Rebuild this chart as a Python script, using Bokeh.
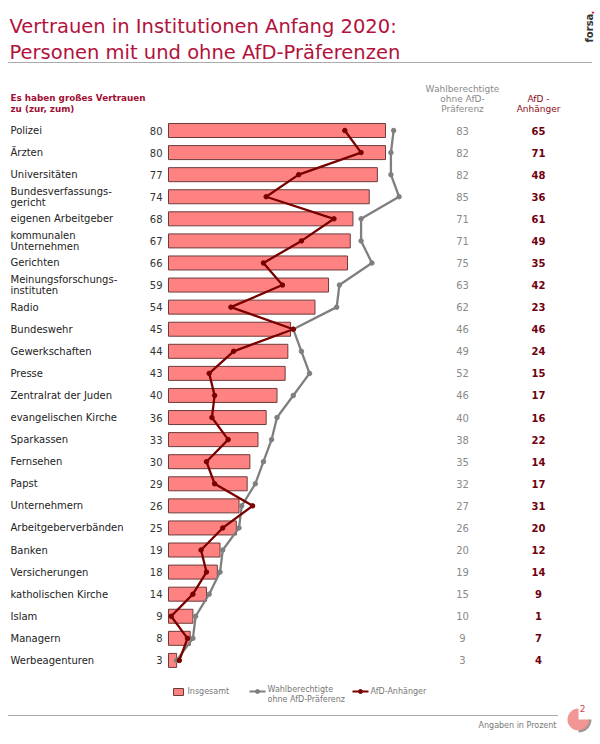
from bokeh.plotting import figure
from bokeh.models import Range1d
from bokeh.core.properties import value
from bokeh.embed import file_html
from bokeh.resources import INLINE
import math

# ---------------- data ----------------
labels = ["Polizei", "Ärzten", "Universitäten", "Bundesverfassungs-\ngericht",
          "eigenen Arbeitgeber", "kommunalen\nUnternehmen", "Gerichten",
          "Meinungsforschungs-\ninstituten", "Radio", "Bundeswehr", "Gewerkschaften",
          "Presse", "Zentralrat der Juden", "evangelischen Kirche", "Sparkassen",
          "Fernsehen", "Papst", "Unternehmern", "Arbeitgeberverbänden", "Banken",
          "Versicherungen", "katholischen Kirche", "Islam", "Managern", "Werbeagenturen"]
insgesamt = [80, 80, 77, 74, 68, 67, 66, 59, 54, 45, 44, 43, 40, 36, 33, 30, 29, 26, 25, 19, 18, 14, 9, 8, 3]
ohne_afd = [83, 82, 82, 85, 71, 71, 75, 63, 62, 46, 49, 52, 46, 40, 38, 35, 32, 27, 26, 20, 19, 15, 10, 9, 3]
afd = [65, 71, 48, 36, 61, 49, 35, 42, 23, 46, 24, 15, 17, 16, 22, 14, 17, 31, 20, 12, 14, 9, 1, 7, 4]
rows = list(range(len(labels)))

# ---------------- layout helpers (page pixel -> data) ----------------
PX0, PXU = 168.0, 2.7125
ROW0, ROWH = 130.0, 22.08
def tx(px): return (px - PX0) / PXU
def ty(py): return (py - ROW0) / ROWH

W, H = 600, 744
p = figure(width=W, height=H, output_backend="svg", toolbar_location=None,
           x_range=Range1d(tx(0), tx(W)), y_range=Range1d(ty(H), ty(0)),
           min_border=0, outline_line_color=None)
p.axis.visible = False
p.grid.visible = False
p.background_fill_color = "white"

FONT = value("DejaVu Sans")
RED_T = "#b2123c"
BAR = "#ff8282"
GRAY = "#7f7f7f"
DRED = "#7a0000"

# title
p.text(x=[tx(9), tx(9)], y=[ty(26), ty(52)],
       text=["Vertrauen in Institutionen Anfang 2020:", "Personen mit und ohne AfD-Präferenzen"],
       text_font=FONT, text_font_size="19.5px", text_color=RED_T, text_baseline="alphabetic")
p.text(x=[tx(589)], y=[ty(42)], text=["forsa"], angle=math.pi / 2,
       text_font=FONT, text_font_size="10px", text_font_style="bold", text_color="#333333",
       text_baseline="middle", text_align="left")
p.text(x=[tx(589)], y=[ty(14)], text=["."], angle=math.pi / 2,
       text_font=FONT, text_font_size="10px", text_font_style="bold", text_color="#c8102e",
       text_baseline="middle", text_align="left")
p.line(x=[tx(8), tx(592)], y=[ty(62), ty(62)], line_color="#555555", line_width=1, line_dash="1 1")

# headers
p.text(x=[tx(10), tx(10)], y=[ty(97), ty(108)], text=["Es haben großes Vertrauen", "zu (zur, zum)"],
       text_font=FONT, text_font_size="8.8px", text_font_style="bold", text_color="#a01035",
       text_baseline="middle")
p.text(x=[tx(462)] * 3, y=[ty(88), ty(98), ty(108)], text=["Wahlberechtigte", "ohne AfD-", "Präferenz"],
       text_font=FONT, text_font_size="9px", text_color="#8a8a8a", text_baseline="middle", text_align="center")
p.text(x=[tx(538)] * 2, y=[ty(98), ty(108)], text=["AfD -", "Anhänger"],
       text_font=FONT, text_font_size="9px", text_color="#8b0a1a", text_baseline="middle", text_align="center")

# row labels
lx, ly, lt = [], [], []
for r, lab in zip(rows, labels):
    parts = lab.split("\n")
    if len(parts) == 1:
        lx.append(tx(10)); ly.append(r); lt.append(parts[0])
    else:
        off = 5.5 / ROWH
        lx += [tx(10), tx(10)]; ly += [r - off, r + off]; lt += parts
p.text(x=lx, y=ly, text=lt, text_font=FONT, text_font_size="10px", text_color="#222222",
       text_baseline="middle")

# bars
p.hbar(y=rows, left=0, right=insgesamt, height=14 / ROWH, fill_color=BAR,
       line_color="#6e3b3b", line_width=1)
p.text(x=[tx(162)] * len(rows), y=rows, text=[str(v) for v in insgesamt], text_font=FONT,
       text_font_size="10px", text_color="#333333", text_baseline="middle", text_align="right")

# lines
p.line(x=ohne_afd, y=rows, line_color=GRAY, line_width=2.3)
p.scatter(x=ohne_afd, y=rows, size=4.5, fill_color=GRAY, line_color=GRAY)
p.line(x=afd, y=rows, line_color=DRED, line_width=2.3)
p.scatter(x=afd, y=rows, size=4.5, fill_color=DRED, line_color=DRED)

# value columns
p.text(x=[tx(462)] * len(rows), y=rows, text=[str(v) for v in ohne_afd], text_font=FONT,
       text_font_size="10px", text_color="#8a8a8a", text_baseline="middle", text_align="center")
p.text(x=[tx(538)] * len(rows), y=rows, text=[str(v) for v in afd], text_font=FONT,
       text_font_size="10px", text_font_style="bold", text_color="#6e0010", text_baseline="middle",
       text_align="center")

# legend
p.quad(left=[tx(173)], right=[tx(183)], top=[ty(688)], bottom=[ty(695)], fill_color=BAR,
       line_color="#6e3b3b", line_width=1)
p.text(x=[tx(187)], y=[ty(691)], text=["Insgesamt"], text_font=FONT, text_font_size="8px",
       text_color="#777777", text_baseline="middle")
p.line(x=[tx(249), tx(265)], y=[ty(691), ty(691)], line_color=GRAY, line_width=2)
p.scatter(x=[tx(257)], y=[ty(691)], size=4, fill_color=GRAY, line_color=GRAY)
p.text(x=[tx(267), tx(267)], y=[ty(689), ty(699)], text=["Wahlberechtigte", "ohne AfD-Präferenz"],
       text_font=FONT, text_font_size="8px", text_color="#777777", text_baseline="middle")
p.line(x=[tx(352), tx(368)], y=[ty(691), ty(691)], line_color=DRED, line_width=2)
p.scatter(x=[tx(360)], y=[ty(691)], size=4, fill_color=DRED, line_color=DRED)
p.text(x=[tx(370)], y=[ty(691)], text=["AfD-Anhänger"], text_font=FONT, text_font_size="8px",
       text_color="#777777", text_baseline="middle")

# footer
p.line(x=[tx(8), tx(557)], y=[ty(715), ty(715)], line_color="#555555", line_width=1, line_dash="1 1")
p.text(x=[tx(556)], y=[ty(725)], text=["Angaben in Prozent"], text_font=FONT, text_font_size="8px",
       text_color="#777777", text_baseline="middle", text_align="right")
p.annular_wedge(x=[tx(578)], y=[ty(719)], inner_radius=10, outer_radius=13,
                inner_radius_units="screen", outer_radius_units="screen",
                start_angle=-math.pi / 2, end_angle=0, fill_color="#999999", line_color=None)
p.wedge(x=[tx(578)], y=[ty(719)], radius=11, radius_units="screen",
        start_angle=math.pi / 2, end_angle=2 * math.pi, fill_color="#f08a8a", line_color=None,
        fill_alpha=0.9)
p.text(x=[tx(582)], y=[ty(708)], text=["2"], text_font=FONT, text_font_size="9px",
       text_color="#d04050", text_baseline="middle", text_align="center")

open("out.html", "w").write(file_html(p, INLINE))
